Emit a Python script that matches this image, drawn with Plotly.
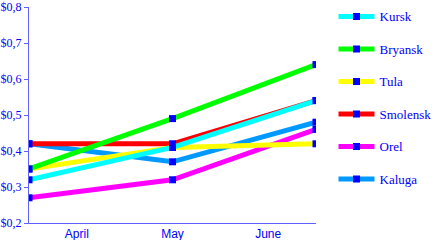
import plotly.graph_objects as go

months = ["April", "May", "June"]
series_names = ["Kursk", "Bryansk", "Tula", "Smolensk", "Orel", "Kaluga"]
kursk = [0.32, 0.41, 0.54]
bryansk = [0.35, 0.49, 0.64]
tula = [0.35, 0.41, 0.42]
smolensk = [0.42, 0.42, 0.54]
orel = [0.27, 0.32, 0.46]
kaluga = [0.42, 0.37, 0.48]
y_ticks = [0.2, 0.3, 0.4, 0.5, 0.6, 0.7, 0.8]
y_tick_labels = ["$0,2", "$0,3", "$0,4", "$0,5", "$0,6", "$0,7", "$0,8"]

values = [kursk, bryansk, tula, smolensk, orel, kaluga]
colors = ["#00ffff", "#00ff00", "#ffff00", "#ff0000", "#ff00ff", "#0099ff"]

n = len(months)
# data points at band edges / middle, labels at band centres
x_pts = [i * n / (n - 1) for i in range(n)]
x_lbl = [i + 0.5 for i in range(n)]

fig = go.Figure()
entries = list(enumerate(zip(series_names, values, colors)))
for rank, (name, vals, col) in reversed(entries):
    fig.add_trace(go.Scatter(
        x=x_pts, y=vals, name=name, legendgroup=name, legendrank=rank + 1,
        mode="lines+markers",
        line=dict(color=col, width=5),
        marker=dict(symbol="square", size=7, color="#0000ff"),
    ))

fig.update_layout(
    width=432, height=240,
    margin=dict(l=29, r=116, t=7, b=17),
    paper_bgcolor="white", plot_bgcolor="white",
    showlegend=True,
    legend=dict(
        xref="container", yref="container",
        x=0.772, xanchor="left", y=0.994, yanchor="top",
        traceorder="grouped", tracegroupgap=12.6,
        font=dict(family="Liberation Serif", size=13, color="#0000ff"),
        bgcolor="rgba(0,0,0,0)", itemwidth=36, maxheight=1,
    ),
    xaxis=dict(
        range=[0, n], tickvals=x_lbl, ticktext=months,
        showgrid=False, zeroline=False, showline=True,
        linecolor="#6060ff", linewidth=1, ticks="",
        automargin=False,
        tickfont=dict(family="Liberation Sans", size=12, color="#0000ff"),
    ),
    yaxis=dict(
        range=[0.2, 0.8], tickvals=y_ticks, ticktext=y_tick_labels,
        showgrid=False, zeroline=False, showline=True,
        linecolor="#6060ff", linewidth=1, ticks="outside", ticklen=4,
        tickcolor="#6060ff", automargin=False,
        tickfont=dict(family="Liberation Serif", size=12, color="#0000ff"),
    ),
)

fig.write_html("out.html")
